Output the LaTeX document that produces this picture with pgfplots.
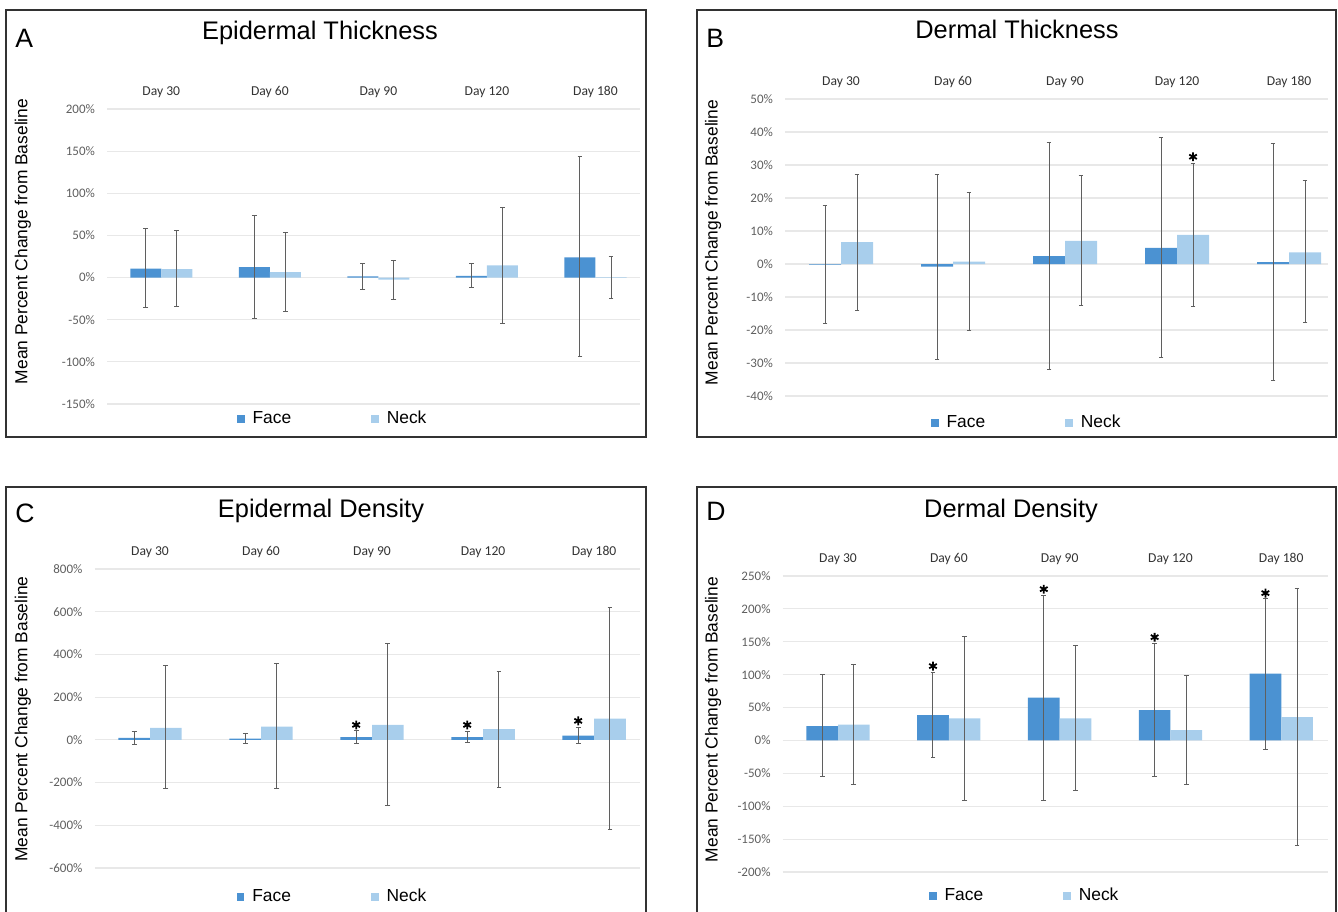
\documentclass[border=0pt]{standalone}
\usepackage{fontspec}
\setmainfont{Liberation Sans}
\newfontfamily\carlito{Carlito}
\usepackage{pgfplots}
\usepackage{pgfplotstable}
\pgfplotsset{compat=1.18}
\definecolor{face}{RGB}{75,146,210}
\definecolor{neck}{RGB}{168,206,236}
\definecolor{errc}{RGB}{95,95,95}
\definecolor{gridc}{RGB}{232,232,232}
\definecolor{tickc}{RGB}{95,95,95}
\definecolor{boxc}{RGB}{50,50,50}

% xf / xn: bar centres of Face and Neck within each category (category i at x=i)
\pgfplotstableread{
xf xn f fp fm n np nm
-0.14285 0.14285 10.7 47.3 46.7 10.0 46.0 44.0
0.85715 1.14285 12.5 61.5 61.5 6.5 46.5 46.5
1.85715 2.14285 1.5 15.0 15.5 -2.5 22.5 23.5
2.85715 3.14285 2.0 15.0 14.0 14.6 68.4 69.6
3.85715 4.14285 24.0 120.0 118.0 0.5 24.5 25.5
}\dataA
\pgfplotstableread{
xf xn f fp fm n np nm
-0.14285 0.14285 -0.2 17.8 17.8 6.6 20.6 20.6
0.85715 1.14285 -0.8 28.0 28.0 0.7 20.9 20.9
1.85715 2.14285 2.4 34.5 34.4 7.0 19.7 19.6
2.85715 3.14285 4.9 33.4 33.2 8.8 21.7 21.7
3.85715 4.14285 0.6 35.8 35.8 3.5 21.7 21.3
}\dataB
\pgfplotstableread{
xf xn f fp fm n np nm
-0.14285 0.14285 9.4 31 31 56 292 285
0.85715 1.14285 6.0 22 23 62 295 291
1.85715 2.14285 12.5 31 30 70 379 377
2.85715 3.14285 12.5 25 26.5 50 271 274
3.85715 4.14285 20.0 36 37 100 522 522
}\dataC
\pgfplotstableread{
xf xn f fp fm n np nm
-0.14285 0.14285 21.9 78 77 23.9 92 91.5
0.85715 1.14285 38.6 65 64 33.5 125 124.5
1.85715 2.14285 65.0 155 156 33.5 111 109
2.85715 3.14285 46.2 101 101 15.8 83 82.4
3.85715 4.14285 101.6 114.4 114.8 35.6 195 194.6
}\dataD

\pgfplotsset{
  panel/.style={
    scale only axis, anchor=south west,
    axis line style={draw=none},
    tick style={draw=none}, major tick length=0pt,
    ymajorgrids, grid style={gridc, line width=0.6pt},
    xtick={0,1,2,3,4},
    xticklabels={Day 30,Day 60,Day 90,Day 120,Day 180},
    xticklabel pos=upper,
    xticklabel style={font=\carlito\fontsize{6.8}{7}\selectfont, text=black!80, anchor=center, yshift=8.5pt},
    yticklabel style={font=\carlito\fontsize{6.5}{7}\selectfont, text=tickc, xshift=-2.5pt},
    clip=false,
    legend columns=2,
    legend style={draw=none, fill=none, inner sep=0pt, anchor=west,
      font=\fontsize{8.7}{10}\selectfont, nodes={inner sep=0pt},
      /tikz/every odd column/.append style={column sep=4pt},
      /tikz/every even column/.append style={column sep=40pt}},
  },
  fbar/.style={ybar, bar width=0.2857, bar shift=0pt, fill=face, draw=none,
    legend image code/.code={\fill[fill=face] (0pt,-1.9pt) rectangle (3.8pt,1.9pt);},
    error bars/y dir=both, error bars/y explicit,
    error bars/error bar style={errc, line width=0.5pt},
    error bars/error mark options={errc, rotate=90, mark size=1.2pt, line width=0.5pt}},
  nbar/.style={ybar, bar width=0.2857, bar shift=0pt, fill=neck, draw=none,
    legend image code/.code={\fill[fill=neck] (0pt,-1.9pt) rectangle (3.8pt,1.9pt);},
    error bars/y dir=both, error bars/y explicit,
    error bars/error bar style={errc, line width=0.5pt},
    error bars/error mark options={errc, rotate=90, mark size=1.2pt, line width=0.5pt}},
  star/.style={only marks, mark=asterisk, mark size=2.2pt, line width=0.9pt, black, forget plot},
}

\begin{document}
\begin{tikzpicture}
% ---------- frames ----------
\draw[boxc, line width=1pt] (3pt,450.5pt) rectangle (323pt,237pt);
\draw[boxc, line width=1pt] (348.5pt,450.5pt) rectangle (668pt,237pt);
\draw[boxc, line width=1pt] (3pt,-5pt) -- (3pt,212pt) -- (323pt,212pt) -- (323pt,-5pt);
\draw[boxc, line width=1pt] (348.5pt,-5pt) -- (348.5pt,212pt) -- (668pt,212pt) -- (668pt,-5pt);

% ---------- A ----------
\begin{axis}[panel, at={(53.5pt,253.5pt)}, width=266.5pt, height=147.5pt,
  xmin=-0.5, xmax=4.41, ymin=-150, ymax=200,
  ytick={-150,-100,-50,0,50,100,150,200},
  yticklabels={-150\%,-100\%,-50\%,0\%,50\%,100\%,150\%,200\%},
  legend style={at={(0.243,-0.051)}}]
\addplot[fbar] table[x=xf,y=f,y error plus=fp,y error minus=fm]{\dataA};
\addlegendentry{Face}
\addplot[nbar] table[x=xn,y=n,y error plus=np,y error minus=nm]{\dataA};
\addlegendentry{Neck}
\end{axis}

% ---------- B ----------
\begin{axis}[panel, at={(392.5pt,257.5pt)}, width=271.5pt, height=148.5pt,
  xmin=-0.5, xmax=4.348, ymin=-40, ymax=50,
  ytick={-40,-30,-20,-10,0,10,20,30,40,50},
  yticklabels={-40\%,-30\%,-20\%,-10\%,0\%,10\%,20\%,30\%,40\%,50\%},
  legend style={at={(0.268,-0.091)}}]
\addplot[fbar] table[x=xf,y=f,y error plus=fp,y error minus=fm]{\dataB};
\addlegendentry{Face}
\addplot[nbar] table[x=xn,y=n,y error plus=np,y error minus=nm]{\dataB};
\addlegendentry{Neck}
\addplot[star] coordinates {(3.14285,32.5)};
\end{axis}

% ---------- C ----------
\begin{axis}[panel, at={(47.25pt,21.5pt)}, width=272.75pt, height=149.5pt,
  xmin=-0.5, xmax=4.414, ymin=-600, ymax=800,
  ytick={-600,-400,-200,0,200,400,600,800},
  yticklabels={-600\%,-400\%,-200\%,0\%,200\%,400\%,600\%,800\%},
  legend style={at={(0.260,-0.097)}}]
\addplot[fbar] table[x=xf,y=f,y error plus=fp,y error minus=fm]{\dataC};
\addlegendentry{Face}
\addplot[nbar] table[x=xn,y=n,y error plus=np,y error minus=nm]{\dataC};
\addlegendentry{Neck}
\addplot[star] coordinates {(1.85715,70) (2.85715,70) (3.85715,89)};
\end{axis}

% ---------- D ----------
\begin{axis}[panel, at={(391.3pt,19.5pt)}, width=272.7pt, height=148pt,
  xmin=-0.5, xmax=4.422, ymin=-200, ymax=250,
  ytick={-200,-150,-100,-50,0,50,100,150,200,250},
  yticklabels={-200\%,-150\%,-100\%,-50\%,0\%,50\%,100\%,150\%,200\%,250\%},
  legend style={at={(0.2675,-0.081)}}]
\addplot[fbar] table[x=xf,y=f,y error plus=fp,y error minus=fm]{\dataD};
\addlegendentry{Face}
\addplot[nbar] table[x=xn,y=n,y error plus=np,y error minus=nm]{\dataD};
\addlegendentry{Neck}
\addplot[star] coordinates {(0.85715,113) (1.85715,230) (2.85715,157) (3.85715,224)};
\end{axis}

% ---------- titles, letters, y labels ----------
\node[anchor=west, font=\fontsize{13.3}{15}\selectfont, inner sep=0pt] at (7.5pt,436.5pt) {A};
\node[anchor=west, font=\fontsize{13.3}{15}\selectfont, inner sep=0pt] at (353pt,436.5pt) {B};
\node[anchor=west, font=\fontsize{13.3}{15}\selectfont, inner sep=0pt] at (7.5pt,199pt) {C};
\node[anchor=west, font=\fontsize{13.3}{15}\selectfont, inner sep=0pt] at (353pt,200pt) {D};

\node[font=\fontsize{12.7}{14}\selectfont, inner sep=0pt] at (160pt,439pt) {Epidermal Thickness};
\node[font=\fontsize{12.7}{14}\selectfont, inner sep=0pt] at (508.5pt,441pt) {Dermal Thickness};
\node[font=\fontsize{12.7}{14}\selectfont, inner sep=0pt] at (160.5pt,200pt) {Epidermal Density};
\node[font=\fontsize{12.7}{14}\selectfont, inner sep=0pt] at (505.5pt,200pt) {Dermal Density};

\node[rotate=90, font=\fontsize{8.7}{10}\selectfont, inner sep=0pt] at (11.5pt,334.75pt) {Mean Percent Change from Baseline};
\node[rotate=90, font=\fontsize{8.7}{10}\selectfont, inner sep=0pt] at (356.5pt,334.25pt) {Mean Percent Change from Baseline};
\node[rotate=90, font=\fontsize{8.7}{10}\selectfont, inner sep=0pt] at (11.5pt,96pt) {Mean Percent Change from Baseline};
\node[rotate=90, font=\fontsize{8.7}{10}\selectfont, inner sep=0pt] at (356.5pt,95.75pt) {Mean Percent Change from Baseline};

\pgfresetboundingbox
\useasboundingbox (0pt,0pt) rectangle (669pt,455.5pt);
\end{tikzpicture}
\end{document}
